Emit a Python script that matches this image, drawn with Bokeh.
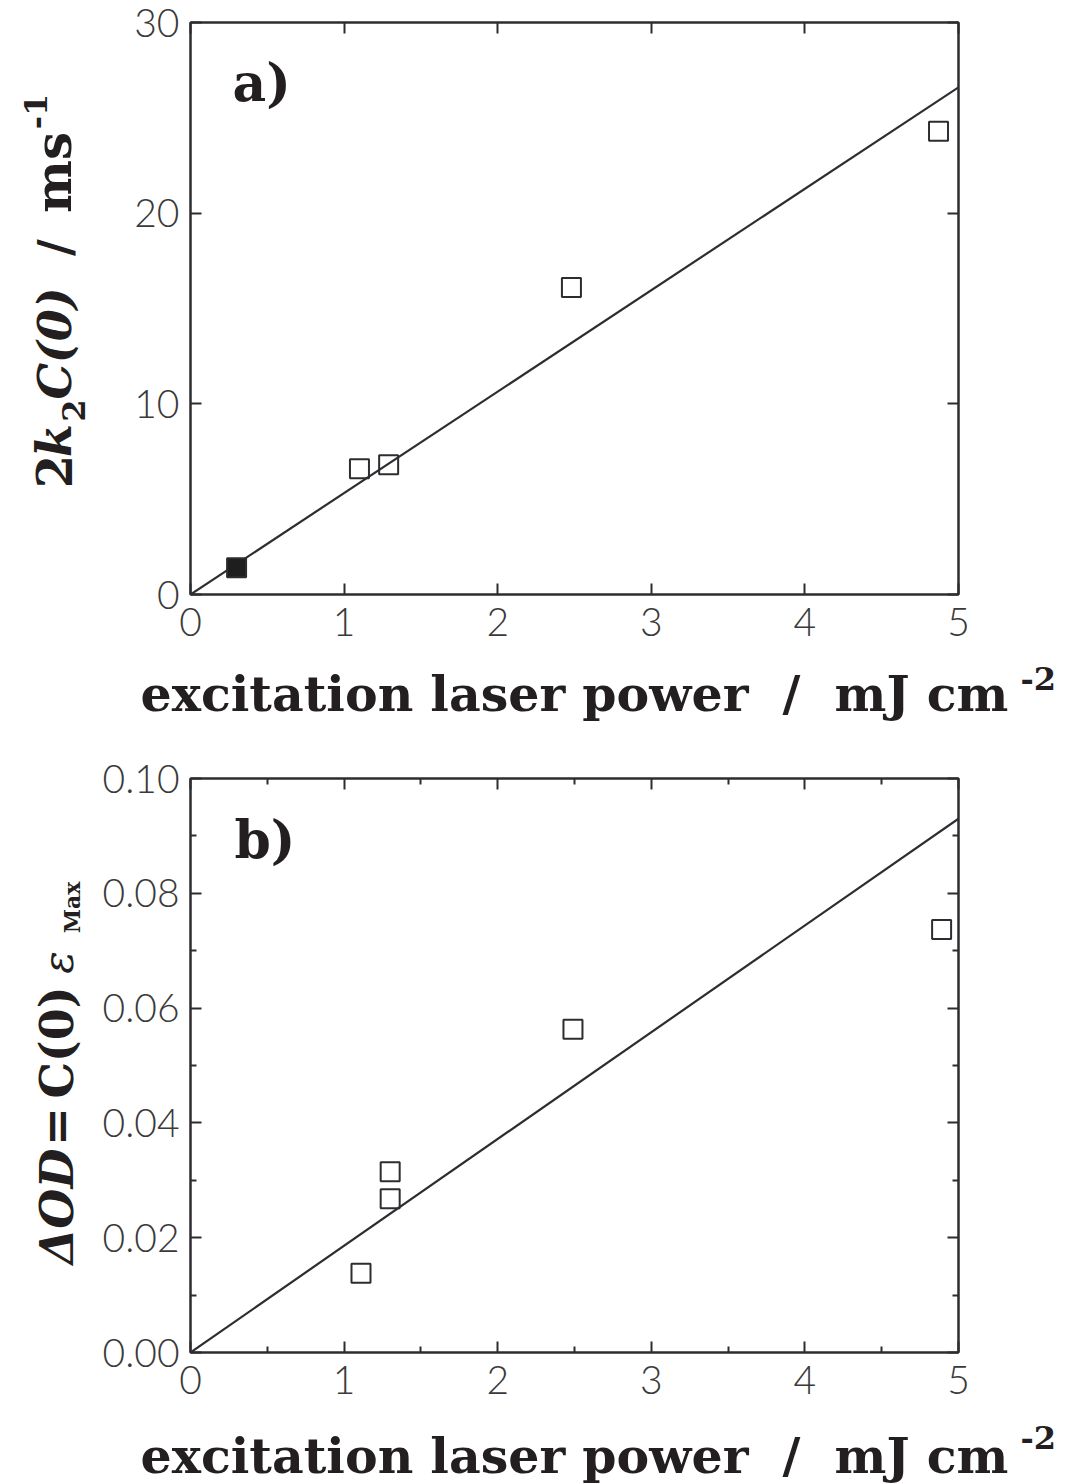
from math import pi

from bokeh.embed import file_html
from bokeh.layouts import column, row
from bokeh.models import FixedTicker, Label, LinearAxis, NumeralTickFormatter, Range1d
from bokeh.plotting import figure
from bokeh.resources import INLINE

# ---- data -------------------------------------------------------------
# a) initial second-order decay rate 2 k2 C(0) against laser fluence
power_a_open = [1.10, 1.29, 2.48, 4.87]
rate_a_open = [6.6, 6.8, 16.1, 24.3]
power_a_filled = [0.30]
rate_a_filled = [1.4]
fit_slope_a = 5.32          # ms^-1 per mJ cm^-2, line through origin

# b) initial absorbance change against laser fluence
power_b = [1.11, 1.30, 1.30, 2.49, 4.89]
od_b = [0.0138, 0.0268, 0.0315, 0.0563, 0.0737]
fit_slope_b = 0.0186        # per mJ cm^-2, line through origin

fit_x = [0.0, 5.0]
x_ticks = [0, 1, 2, 3, 4, 5]
x_minor_b = [0.5, 1.5, 2.5, 3.5, 4.5]
y_ticks_a = [0, 10, 20, 30]
y_ticks_b = [0.00, 0.02, 0.04, 0.06, 0.08, 0.10]
y_minor_b = [0.01, 0.03, 0.05, 0.07, 0.09]

NB = "\u00a0"
x_title = f"excitation laser power{NB}{NB}/{NB}{NB}mJ cm"

# ---- styling ----------------------------------------------------------
W = 1072
LABEL_W = 96                 # strip holding the rotated y titles
LEFT, RIGHT = 190, 958       # frame edges across the page
INK = "#2e2c30"
TEXT = "#231f20"
TICK_FONT = "Lato Light"
SERIF = "DejaVu Serif"
R = pi / 2
MID = 0.34                   # baseline -> middle of text box, in em


def frame(height, top, bottom, y_end, yticks, xminor=None, yminor=None, yfmt=None):
    p = figure(width=W - LABEL_W, height=height, output_backend="svg",
               toolbar_location=None,
               x_range=Range1d(0, 5), y_range=Range1d(0, y_end),
               x_axis_location=None, y_axis_location=None,
               min_border_left=LEFT - LABEL_W, min_border_right=W - RIGHT,
               min_border_top=top, min_border_bottom=bottom)
    p.grid.visible = False
    p.outline_line_color = INK
    p.outline_line_width = 2
    p.background_fill_color = "white"
    p.border_fill_color = "white"

    for side in ("below", "above", "left", "right"):
        horiz = side in ("below", "above")
        ticks = x_ticks if horiz else yticks
        minor = xminor if horiz else yminor
        ax = LinearAxis(ticker=FixedTicker(ticks=ticks, minor_ticks=minor or []))
        ax.axis_line_color = INK
        ax.axis_line_width = 2
        ax.major_tick_in = 11
        ax.major_tick_out = 0
        ax.major_tick_line_color = INK
        ax.major_tick_line_width = 2
        ax.minor_tick_in = 6
        ax.minor_tick_out = 0
        ax.minor_tick_line_color = INK if minor else None
        ax.minor_tick_line_width = 2
        if side in ("below", "left"):
            ax.major_label_text_font = TICK_FONT
            ax.major_label_text_font_size = "39px"
            ax.major_label_text_color = "#3a3a3a"
            ax.major_label_standoff = 13 if horiz else 11
            if not horiz and yfmt:
                ax.formatter = NumeralTickFormatter(format=yfmt)
        else:
            # mirror axes carry tick marks only
            ax.major_label_text_font_size = "10px"
            ax.major_label_text_color = None
            ax.major_label_standoff = 0
        p.add_layout(ax, side)
    return p


def strip(width, height, top=0, bottom=0):
    """Blank figure used to typeset axis titles.

    Data units are pixels measured up from the strip's lower edge; the top and
    bottom borders follow the neighbouring panel so the frames line up.
    """
    s = figure(width=width, height=height, output_backend="svg", toolbar_location=None,
               x_range=Range1d(0, width), y_range=Range1d(bottom, height - top),
               x_axis_location=None, y_axis_location=None, min_border=0,
               min_border_top=top, min_border_bottom=bottom)
    s.grid.visible = False
    s.outline_line_color = None
    s.background_fill_color = "white"
    s.border_fill_color = "white"
    return s


def add_text(p, x, y, text, size, style="bold", angle=0.0, align="left"):
    p.add_layout(Label(x=x, y=y, text=text, angle=angle, text_font=SERIF,
                       text_font_size=f"{size}px", text_font_style=style,
                       text_color=TEXT, text_align=align,
                       text_baseline="middle"))


def add_x_title(s, bottom, baseline, sup_baseline):
    """Horizontal title in a strip whose lower edge is page row `bottom`."""
    add_text(s, 140, bottom - (baseline - MID * 49), x_title, 49)
    add_text(s, 1020, bottom - (sup_baseline - MID * 32), "-2", 32)


def add_rotated(s, bottom, pieces):
    """Vertical title pieces: (text, page centre row, baseline column, size, style)."""
    for text, cy, base_x, size, style in pieces:
        add_text(s, base_x - MID * size, bottom - cy, text, size, style,
                 angle=R, align="center")


# ---- panel a ----------------------------------------------------------
A_H = 660                    # page rows 0..660
A_TOP, A_BOT = 22, 594
pa = frame(A_H, A_TOP, A_H - A_BOT, 30, y_ticks_a)


def ya(py):
    return (A_BOT - py) / (A_BOT - A_TOP) * 30


pa.line(fit_x, [fit_slope_a * v for v in fit_x], line_color=INK, line_width=2.2)
pa.scatter(power_a_open, rate_a_open, marker="square", size=19,
           fill_color=None, line_color=INK, line_width=2)
pa.scatter(power_a_filled, rate_a_filled, marker="square", size=19,
           fill_color="#1e1e1e", line_color=INK, line_width=2)
add_text(pa, (232 - LEFT) / (RIGHT - LEFT) * 5, ya(100 - MID * 52), "a)", 52)

ta = strip(LABEL_W, A_H, A_TOP, A_H - A_BOT)
add_rotated(ta, A_H, [
    ("2", 471, 70, 48, "bold"),
    ("k", 440, 70, 48, "bold italic"),
    ("2", 410, 84, 32, "bold"),
    ("C(0)", 343, 70, 46, "bold italic"),
    ("/", 247, 70, 46, "bold"),
    ("ms", 172, 70, 50, "bold"),
    ("-1", 111, 46, 32, "bold"),
])

xa = strip(W, 740 - A_H)     # page rows 660..740
add_x_title(xa, 740, 710, 689)

# ---- panel b ----------------------------------------------------------
B0 = 740
B_H = 674                    # page rows 740..1414
B_TOP, B_BOT = 778 - B0, 1352 - B0
pb = frame(B_H, B_TOP, B_H - B_BOT, 0.10, y_ticks_b, x_minor_b, y_minor_b, "0.00")


def yb(py):
    return (1352 - py) / (1352 - 778) * 0.10


pb.line(fit_x, [fit_slope_b * v for v in fit_x], line_color=INK, line_width=2.2)
pb.scatter(power_b, od_b, marker="square", size=19,
           fill_color=None, line_color=INK, line_width=2)
add_text(pb, (234 - LEFT) / (RIGHT - LEFT) * 5, yb(857 - MID * 52), "b)", 52)

BT = B0 + B_H
tb = strip(LABEL_W, B_H, B_TOP, B_H - B_BOT)
add_rotated(tb, BT, [
    ("ΔOD", 1206, 72, 46, "bold italic"),
    ("=", 1126, 72, 46, "bold"),
    ("C(0)", 1042, 72, 46, "bold"),
    ("ε", 962, 72, 42, "italic"),
    ("Max", 907, 79, 22, "bold"),
])

xb = strip(W, 1484 - BT)     # page rows 1414..1484
add_x_title(xb, 1484, 1472, 1448)

page = column(row(ta, pa), xa, row(tb, pb), xb)
open("out.html", "w").write(file_html(page, INLINE))
